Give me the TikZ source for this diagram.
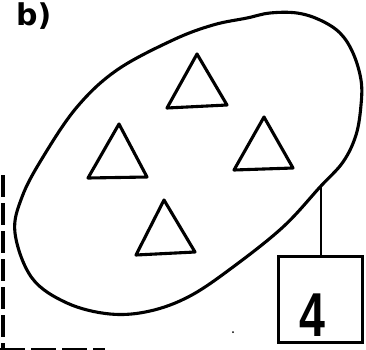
\documentclass[tikz,border=0pt]{standalone}
\usepackage{fontspec}
\setmainfont{DejaVu Sans}
\newfontfamily\digitfont{Liberation Sans}
\begin{document}
\begin{tikzpicture}[x=1pt,y=-1pt,
  outline/.style={line width=3.1pt, line join=round, line cap=round},
  tri/.style={outline},
  dashline/.style={line width=4pt, dash pattern=on 22pt off 6pt}]
\useasboundingbox (0,0) rectangle (366,349);
% blob
\draw[outline] plot[smooth cycle, tension=0.6] coordinates {
 (270,13) (297,13) (320,20) (340,33) (353,53) (361,80) (361,105) (356,135) (343,162)
 (320,187) (283,227) (233,267) (190,296) (150,311) (110,314) (67,303) (32,278)
 (15,233) (22,197) (43,157) (77,107) (117,70) (173,40) (213,25) (247,18)};
\coordinate (blobpt) at (321,186);
% triangles
\draw[tri] (197,54) -- (227,105) -- (167,108) -- cycle;
\draw[tri] (119,124) -- (147,177) -- (88,178) -- cycle;
\draw[tri] (264,117) -- (293,168) -- (234,170) -- cycle;
\draw[tri] (164,200) -- (195,252) -- (136,255) -- cycle;
% box
\node[draw, line width=3pt, minimum width=84pt, minimum height=86pt, inner sep=0pt,
  anchor=north west] (box) at (277,255) {};
\node[font=\digitfont\bfseries\fontsize{62}{62}\selectfont, xscale=0.75, anchor=base, inner sep=0pt] (four) at (312,336) {4};
\draw[line width=2.4pt] (blobpt) -- (box.north -| blobpt);
% dashed lines
\coordinate (dtop) at (3,175);
\coordinate (dbot) at (3,349);
\draw[dashline] (dtop) -- (dbot);
\coordinate (hl) at (0,349);
\coordinate (hr) at (105,349);
\draw[line width=2.5pt, dash pattern=on 25pt off 6pt] (hl) -- (hr);
% dot
\fill (233,332) circle (1pt);
% label
\node[font=\bfseries\fontsize{30}{30}\selectfont, anchor=base west, inner sep=0pt] (lbl) at (16,25) {b)};
\end{tikzpicture}
\end{document}
